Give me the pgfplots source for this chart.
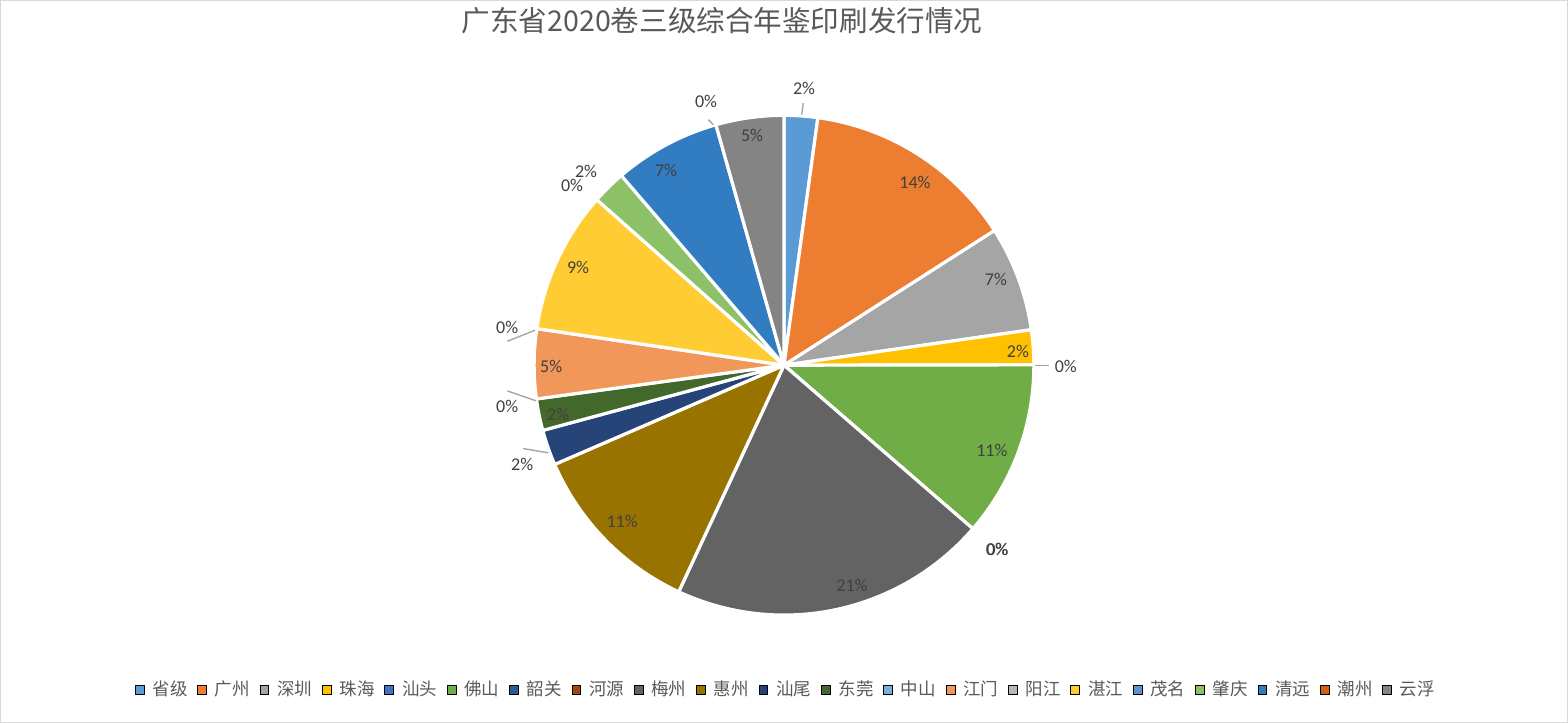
\documentclass[border=0pt]{standalone}
\usepackage{pgfplots}
\usepackage{pgfplotstable}
\pgfplotsset{compat=1.18}
\usepackage{fontspec}
\setmainfont{Carlito}
\newfontfamily\cjk{Noto Sans CJK SC}

\definecolor{pc0}{HTML}{5B9BD5}
\definecolor{pc1}{HTML}{ED7D31}
\definecolor{pc2}{HTML}{A5A5A5}
\definecolor{pc3}{HTML}{FFC000}
\definecolor{pc4}{HTML}{4472C4}
\definecolor{pc5}{HTML}{70AD47}
\definecolor{pc6}{HTML}{255E91}
\definecolor{pc7}{HTML}{9E480E}
\definecolor{pc8}{HTML}{636363}
\definecolor{pc9}{HTML}{997300}
\definecolor{pc10}{HTML}{264478}
\definecolor{pc11}{HTML}{43682B}
\definecolor{pc12}{HTML}{7CAFDD}
\definecolor{pc13}{HTML}{F1975A}
\definecolor{pc14}{HTML}{B7B7B7}
\definecolor{pc15}{HTML}{FFCD33}
\definecolor{pc16}{HTML}{698ED0}
\definecolor{pc17}{HTML}{8CC168}
\definecolor{pc18}{HTML}{327DC2}
\definecolor{pc19}{HTML}{D26012}
\definecolor{pc20}{HTML}{848484}
\definecolor{labtxt}{HTML}{404040}
\definecolor{ttltxt}{HTML}{595959}
\definecolor{leader}{HTML}{A6A6A6}
\definecolor{frame}{HTML}{D9D9D9}

% share of each region (percent)
\pgfplotstableread{
name value
省级 2.17
广州 13.8
深圳 6.8
珠海 2.25
汕头 0
佛山 11.4
韶关 0
河源 0
梅州 20.6
惠州 11.6
汕尾 2.3
东莞 2.05
中山 0
江门 4.5
阳江 0
湛江 9.2
茂名 0
肇庆 2.2
清远 6.9
潮州 0
云浮 4.4
}\piedata

% data label positions (chart pixel coordinates) and rounded percent
\pgfplotstableread{
x y lab
804 634 2
915 540 14
996 443 7
1018 371 2
1066 356 0
992 272 11
997 173 0
997.6 173 0
852 137 21
622 201 11
522 258 2
558 308 2
507 316 0
551 356 5
507 395 0
578 455 9
572 537 0
586 551 2
666 552 7
706 621 0
752 587 5
}\labdata

\begin{document}
\begin{tikzpicture}
\begin{axis}[
  scale only axis, width=784pt, height=361pt,
  xmin=0, xmax=1568, ymin=0, ymax=722,
  ticks=none, axis line style={draw=frame},
  clip=false,
  title={广东省2020卷三级综合年鉴印刷发行情况},
  title style={at={(0.4605,0.9557)}, anchor=center, font=\cjk\fontsize{14.3}{17}\selectfont, text=ttltxt, inner sep=0pt},
  legend columns=21,
  legend image code/.code={\fill[#1] (0pt,-2.2pt) rectangle (4.4pt,2.2pt);},
  legend style={draw=none, fill=none, at={(0.5006,0.0443)}, anchor=center,
    font=\cjk\fontsize{8.75}{10}\selectfont, text=ttltxt,
    nodes={inner sep=0pt},
    /tikz/every odd column/.append style={column sep=4pt},
    /tikz/every even column/.append style={column sep=4.9pt}},
]
\def\total{0}
\pgfplotsforeachungrouped \i in {0,...,20}{%
  \pgfplotstablegetelem{\i}{value}\of\piedata
  \pgfmathsetmacro\total{\total+\pgfplotsretval}%
}
\def\cum{0}
\pgfplotsforeachungrouped \i in {0,...,20}{%
  \pgfplotstablegetelem{\i}{value}\of\piedata
  \let\v\pgfplotsretval
  \pgfmathsetmacro\sa{\cum/\total*360}%
  \pgfmathsetmacro\cum{\cum+\v}%
  \pgfmathsetmacro\sb{\cum/\total*360}%
  \pgfmathtruncatemacro\isnz{\v>0}%
  \ifnum\isnz=1
    \edef\doslice{\noexpand\addplot[forget plot, fill=pc\i, draw=white, line width=1.6pt, line join=round, domain=\sa:\sb, samples=60, variable=\noexpand\t] ({784+250*sin(\noexpand\t)},{357+250*cos(\noexpand\t)}) -- (axis cs:784,357) -- cycle;}%
    \doslice
  \fi
}
% leader lines
\addplot[forget plot, draw=leader, line width=0.7pt] coordinates {(803.3,619.3) (801.7,607.7)};
\addplot[forget plot, draw=leader, line width=0.7pt] coordinates {(1035,356.5) (1049,356.5)};
\addplot[forget plot, draw=leader, line width=0.7pt] coordinates {(522.7,273.7) (548.3,269.3)};
\addplot[forget plot, draw=leader, line width=0.7pt] coordinates {(507.3,331.3) (536,321.3)};
\addplot[forget plot, draw=leader, line width=0.7pt] coordinates {(507.3,381) (535,392)};
\addplot[forget plot, draw=leader, line width=0.7pt] coordinates {(708.3,602.7) (713.3,597.7)};
% data labels
\addplot[forget plot, only marks, mark=none, point meta=explicit symbolic,
  nodes near coords={\pgfplotspointmeta\%},
  nodes near coords align=center,
  every node near coord/.append style={anchor=center, inner sep=0pt, font=\fontsize{9}{10}\selectfont, text=labtxt}]
  table[x=x, y=y, meta=lab]{\labdata};
% legend
\pgfplotsforeachungrouped \i in {0,...,20}{%
  \pgfplotstablegetelem{\i}{name}\of\piedata
  \edef\doleg{\noexpand\addlegendimage{fill=pc\i}\noexpand\addlegendentry{\pgfplotsretval}}%
  \doleg
}
\end{axis}
\end{tikzpicture}
\end{document}
